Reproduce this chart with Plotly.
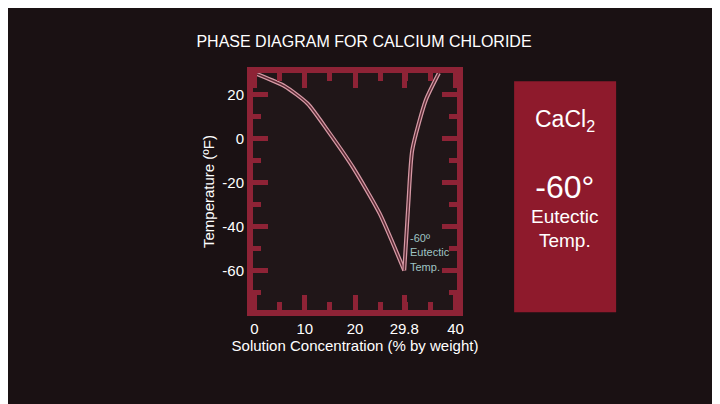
import plotly.graph_objects as go

liq_x = [0, 6, 10.6, 14.5, 19.6, 24.9, 29.8]
liq_y = [30, 24, 16, 4, -13, -34, -60]
sol_x = [29.8, 30.6, 31.4, 34.1, 36.7]
sol_y = [-60, -30, -5, 17.7, 30]
xtick_vals = [0, 10, 20, 29.8, 40]
xtick_text = ["0", "10", "20", "29.8", "40"]
ytick_vals = [20, 0, -20, -40, -60]
ytick_text = ["20", "0", "-20", "-40", "-60"]

red = "#8e2336"
fig = go.Figure()
for xs, ys in [(liq_x, liq_y), (sol_x, sol_y)]:
    fig.add_trace(go.Scatter(x=xs, y=ys, mode="lines", line=dict(color="#d79aa6", width=4, shape="spline", smoothing=0.6), hoverinfo="skip"))
    fig.add_trace(go.Scatter(x=xs, y=ys, mode="lines", line=dict(color="#5a2a34", width=1.5, shape="spline", smoothing=0.6), hoverinfo="skip"))

fig.add_annotation(x=30.6, y=-62, xanchor="left", yanchor="bottom", text="-60º<br>Eutectic<br>Temp.",
                   showarrow=False, align="left", font=dict(color="#9fc4c4", size=11, family="Liberation Sans"))

fig.add_shape(type="rect", xref="paper", yref="paper", x0=1.28, x1=1.78, y0=-0.01, y1=0.965,
              fillcolor="#8e1a2c", line=dict(width=0))
fig.add_annotation(xref="paper", yref="paper", x=1.53, y=0.80, xanchor="center", yanchor="middle", showarrow=False,
                   text="CaCl<sub>2</sub>", font=dict(color="white", size=23, family="Liberation Sans"))
fig.add_annotation(xref="paper", yref="paper", x=1.53, y=0.42, xanchor="center", yanchor="middle", showarrow=False,
                   text="<span style='font-size:32px'>-60°</span><br>Eutectic<br>Temp.",
                   font=dict(color="white", size=19, family="Liberation Sans"))

axcommon = dict(showline=True, linecolor=red, linewidth=6, mirror="ticks", ticks="inside",
                tickcolor=red, tickwidth=5, ticklen=15, showgrid=False, zeroline=False,
                tickfont=dict(color="white", size=15, family="Liberation Sans"))
fig.update_xaxes(range=[-0.3, 40.3], tickvals=xtick_vals, ticktext=xtick_text,
                 minor=dict(dtick=5, ticks="inside", ticklen=8, tickwidth=5, tickcolor=red),
                 title=dict(text="Solution Concentration (% by weight)", font=dict(color="white", size=15, family="Liberation Sans"), standoff=4),
                 **axcommon)
fig.update_yaxes(range=[-78, 30], tickvals=ytick_vals, ticktext=ytick_text,
                 minor=dict(dtick=10, ticks="inside", ticklen=8, tickwidth=5, tickcolor=red),
                 title=dict(text="Temperature (ºF)", font=dict(color="white", size=15, family="Liberation Sans"), standoff=6),
                 **axcommon)
fig.update_layout(width=712, height=396, margin=dict(l=245, r=263, t=65, b=94),
                  paper_bgcolor="#1a1113", plot_bgcolor="#201618", showlegend=False,
                  title=dict(text="PHASE DIAGRAM FOR CALCIUM CHLORIDE", x=0.5, xanchor="center", y=0.93,
                             font=dict(color="white", size=16, family="Liberation Sans")))
fig.write_html("out.html")
